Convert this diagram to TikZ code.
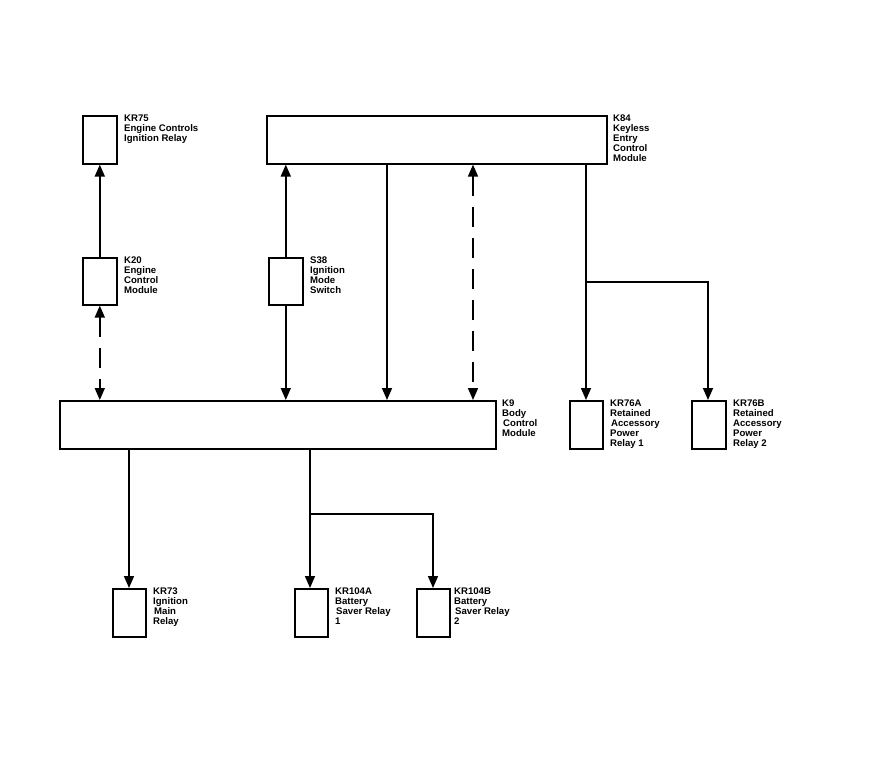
\documentclass[tikz,border=0pt]{standalone}
\usepackage{fontspec}
\setmainfont{Liberation Sans}
\usetikzlibrary{arrows.meta}
\begin{document}
\begin{tikzpicture}[x=1pt,y=-1pt,
  box/.style={draw,line width=1.6pt,fill=white},
  lbl/.style={anchor=north west,inner sep=0pt,align=left,font=\bfseries\fontsize{9.6}{10}\selectfont},
  wire/.style={line width=1.6pt,-{Triangle[length=12pt,width=10pt]}},
  wire2/.style={line width=1.6pt,{Triangle[length=12pt,width=10pt]}-{Triangle[length=12pt,width=10pt]}},
  dsh/.style={dash pattern=on 20pt off 11pt}]
\useasboundingbox (0,0) rectangle (870,771);
% boxes
\node[box,minimum width=34pt,minimum height=48pt,anchor=north west,inner sep=0] (kr75) at (82,115) {};
\node[box,minimum width=340pt,minimum height=48pt,anchor=north west,inner sep=0] (k84) at (266,115) {};
\node[box,minimum width=34pt,minimum height=47pt,anchor=north west,inner sep=0] (k20) at (82,257) {};
\node[box,minimum width=34pt,minimum height=47pt,anchor=north west,inner sep=0] (s38) at (268,257) {};
\node[box,minimum width=436pt,minimum height=48pt,anchor=north west,inner sep=0] (k9) at (59,400) {};
\node[box,minimum width=33pt,minimum height=48pt,anchor=north west,inner sep=0] (kr76a) at (569,400) {};
\node[box,minimum width=34pt,minimum height=48pt,anchor=north west,inner sep=0] (kr76b) at (691,400) {};
\node[box,minimum width=33pt,minimum height=48pt,anchor=north west,inner sep=0] (kr73) at (112,588) {};
\node[box,minimum width=33pt,minimum height=48pt,anchor=north west,inner sep=0] (kr104a) at (294,588) {};
\node[box,minimum width=33pt,minimum height=48pt,anchor=north west,inner sep=0] (kr104b) at (416,588) {};
% labels
\node[lbl] (l75) at (124,115) {KR75\\Engine Controls\\Ignition Relay};
\node[lbl] (l84) at (613,115) {K84\\Keyless\\Entry\\Control\\Module};
\node[lbl] (l20) at (124,257) {K20\\Engine\\Control\\Module};
\node[lbl] (l38) at (310,257) {S38\\Ignition\\Mode\\Switch};
\node[lbl] (l9) at (502,400) {K9\\Body\\\hspace{1pt}Control\\Module};
\node[lbl] (l76a) at (610,400) {KR76A\\Retained\\\hspace{1pt}Accessory\\Power\\Relay 1};
\node[lbl] (l76b) at (733,400) {KR76B\\Retained\\Accessory\\Power\\Relay 2};
\node[lbl] (l73) at (153,588) {KR73\\Ignition\\\hspace{1pt}Main\\Relay};
\node[lbl] (l104a) at (335,588) {KR104A\\Battery\\\hspace{1pt}Saver Relay\\1};
\node[lbl] (l104b) at (454,588) {KR104B\\Battery\\\hspace{1pt}Saver Relay\\2};
% junction coordinates
\coordinate (j1) at (586,282);
\coordinate (j1b) at (708,282);
\coordinate (j2) at (310,514);
\coordinate (j2b) at (433,514);
% connectors
\draw[wire] (k20.north) -- (kr75.south);
\draw[wire2,dsh] (k20.south) -- (k20.south |- k9.north);
\draw[wire] (s38.north) -- (s38.north |- k84.south);
\draw[wire] (s38.south) -- (s38.south |- k9.north);
\draw[wire] (387,0 |- k84.south) -- (387,0 |- k9.north);
\draw[wire2,dsh] (473,0 |- k84.south) -- (473,0 |- k9.north);
\draw[wire] (586,0 |- k84.south) -- (kr76a.north -| j1);
\draw[wire] (j1) -- (j1b) -- (kr76b.north -| j1b);
\draw[wire] (129,0 |- k9.south) -- (129,0 |- kr73.north);
\draw[wire] (310,0 |- k9.south) -- (kr104a.north -| j2);
\draw[wire] (j2) -- (j2b) -- (kr104b.north -| j2b);
\end{tikzpicture}
\end{document}
